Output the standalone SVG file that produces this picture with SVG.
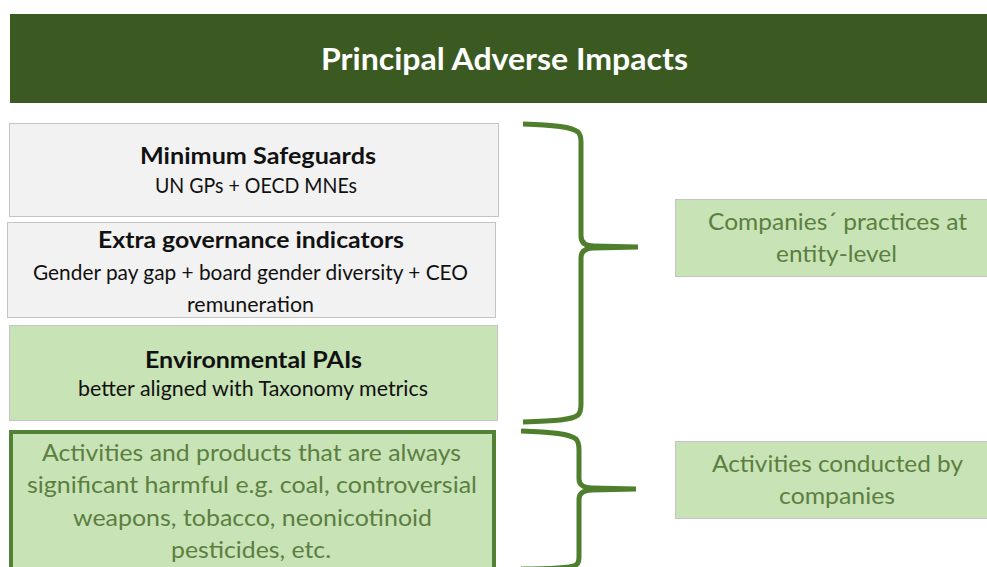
<svg xmlns="http://www.w3.org/2000/svg" width="987" height="567" viewBox="0 0 987 567">
  <style>
    text { font-family: Lato, "Open Sans", "Liberation Sans", sans-serif; text-anchor: middle; }
    .title { fill: #ffffff; font-size: 30px; font-weight: bold; }
    .head { fill: #111111; font-size: 23px; font-weight: bold; }
    .sub { fill: #111111; font-size: 21px; }
    .green { fill: #5b7f3f; font-size: 23.5px; }
    .grey { fill: #f2f2f2; stroke: #c4c4c4; stroke-width: 1; }
    .lg { fill: #c8e3b6; stroke: #c4c4c4; stroke-width: 1; }
    .brace { fill: none; stroke: #4f7f2c; stroke-width: 5; stroke-linecap: butt; stroke-linejoin: round; }
  </style>

  <g id="header">
    <rect x="10" y="14" width="977" height="89" fill="#3a5a22"/>
    <text class="title" x="504.5" y="70" textLength="367" lengthAdjust="spacingAndGlyphs">Principal Adverse Impacts</text>
  </g>

  <g id="minimum-safeguards">
    <rect class="grey" x="9.5" y="123.5" width="489" height="93"/>
    <text class="head" x="258" y="164" textLength="236" lengthAdjust="spacingAndGlyphs">Minimum Safeguards</text>
    <text class="sub" x="256" y="193" textLength="202" lengthAdjust="spacingAndGlyphs">UN GPs + OECD MNEs</text>
  </g>

  <g id="extra-governance">
    <rect class="grey" x="7.5" y="222.5" width="488" height="95"/>
    <text class="head" x="251" y="248" textLength="306" lengthAdjust="spacingAndGlyphs">Extra governance indicators</text>
    <text class="sub" x="250.5" y="280" textLength="435" lengthAdjust="spacingAndGlyphs">Gender pay gap + board gender diversity + CEO</text>
    <text class="sub" x="250.5" y="312" textLength="127" lengthAdjust="spacingAndGlyphs">remuneration</text>
  </g>

  <g id="environmental-pais">
    <rect class="lg" x="9.5" y="325.5" width="488" height="95"/>
    <text class="head" x="253.5" y="368" textLength="217" lengthAdjust="spacingAndGlyphs">Environmental PAIs</text>
    <text class="sub" x="253" y="396" textLength="350" lengthAdjust="spacingAndGlyphs">better aligned with Taxonomy metrics</text>
  </g>

  <g id="harmful-activities">
    <rect x="11" y="432" width="483" height="140" fill="#c8e3b6" stroke="#538135" stroke-width="4"/>
    <text class="green" x="251.5" y="461" textLength="419" lengthAdjust="spacingAndGlyphs">Activities and products that are always</text>
    <text class="green" x="252" y="493" textLength="450" lengthAdjust="spacingAndGlyphs">significant harmful e.g. coal, controversial</text>
    <text class="green" x="252.5" y="526" textLength="359" lengthAdjust="spacingAndGlyphs">weapons, tobacco, neonicotinoid</text>
    <text class="green" x="251" y="558" textLength="160" lengthAdjust="spacingAndGlyphs">pesticides, etc.</text>
  </g>

  <g id="entity-level">
    <rect class="lg" x="675.5" y="199.5" width="313" height="77"/>
    <text class="green" x="837.5" y="230" textLength="259" lengthAdjust="spacingAndGlyphs">Companies´ practices at</text>
    <text class="green" x="836.5" y="262" textLength="121" lengthAdjust="spacingAndGlyphs">entity-level</text>
  </g>

  <g id="activities-conducted">
    <rect class="lg" x="675.5" y="441.5" width="313" height="77"/>
    <text class="green" x="837.5" y="472" textLength="251" lengthAdjust="spacingAndGlyphs">Activities conducted by</text>
    <text class="green" x="837" y="504" textLength="116" lengthAdjust="spacingAndGlyphs">companies</text>
  </g>

  <g id="connectors">
    <path class="brace" d="M523,124 C555,125 572,127 578,132 C581,135 581,138 581,142 L581,236 C581,243 586,246 594,246 L638,247 M638,247 L594,248 C586,248 581,251 581,258 L581,404 C581,408 581,412 578,415 C572,420 555,421 523,422"/>
    <path class="brace" d="M521,431 C553,432 570,434 576,439 C579,442 579,446 579,450 L579,479 C579,485 584,488 592,488 L636,489 M636,489 L592,490 C584,490 579,493 579,499 L579,556 C579,560 579,563 576,565 C570,568 555,569 521,569"/>
  </g>
</svg>
